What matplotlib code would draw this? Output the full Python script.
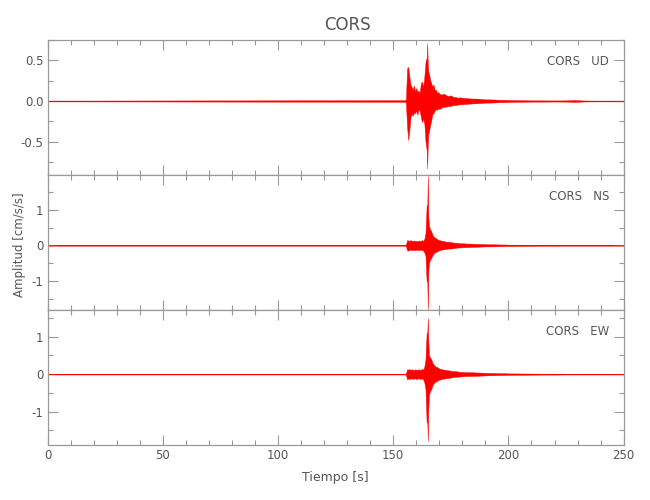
import numpy as np
import matplotlib
matplotlib.use("Agg")
import matplotlib.pyplot as plt
from matplotlib.ticker import MultipleLocator

plt.rcParams['font.family'] = ['DejaVu Sans']

station = "CORS"
components = ["UD", "NS", "EW"]

# sample times [s] of the envelope
t = [0.0, 155.0, 155.5, 156.0, 156.5, 157.0, 157.5, 158.0, 158.5, 159.0,
     159.5, 160.0, 160.5, 161.0, 161.5, 162.0, 162.5, 163.0, 163.5, 164.0,
     164.25, 164.5, 164.75, 165.0, 165.25, 165.5, 166.0, 166.5, 167.0, 167.5,
     168.0, 168.5, 169.0, 169.5, 170.0, 171, 172, 173, 174, 175,
     176, 177, 178, 179, 180, 182, 184, 186, 188, 190,
     192, 194, 196, 198, 200, 205, 210, 215, 220, 225,
     229, 233, 240, 250]

# upper / lower envelope of each trace [cm/s/s]
ud_hi = [0.005, 0.01, 0.02, 0.40, 0.42, 0.30, 0.20, 0.17, 0.14, 0.19,
         0.12, 0.16, 0.11, 0.13, 0.10, 0.22, 0.24, 0.17, 0.30, 0.48,
         0.52, 0.50, 0.71, 0.45, 0.36, 0.34, 0.26, 0.22, 0.18, 0.20,
         0.13, 0.14, 0.10, 0.11, 0.09, 0.08, 0.09, 0.07, 0.06, 0.07,
         0.05, 0.05, 0.04, 0.045, 0.04, 0.035, 0.03, 0.03, 0.025, 0.02,
         0.02, 0.018, 0.015, 0.015, 0.012, 0.01, 0.008, 0.008, 0.007, 0.008,
         0.012, 0.006, 0.005, 0.005]
ud_lo = [-0.005, -0.01, -0.02, -0.32, -0.48, -0.36, -0.20, -0.16, -0.18, -0.14,
         -0.15, -0.12, -0.17, -0.10, -0.12, -0.20, -0.26, -0.22, -0.28, -0.50,
         -0.55, -0.60, -0.83, -0.52, -0.40, -0.38, -0.30, -0.24, -0.16, -0.15,
         -0.12, -0.10, -0.11, -0.09, -0.10, -0.08, -0.07, -0.07, -0.06, -0.06,
         -0.05, -0.05, -0.045, -0.04, -0.04, -0.035, -0.03, -0.028, -0.025, -0.02,
         -0.02, -0.018, -0.015, -0.014, -0.012, -0.01, -0.008, -0.008, -0.007, -0.008,
         -0.012, -0.006, -0.005, -0.005]

ns_hi = [0.01, 0.01, 0.02, 0.15, 0.14, 0.12, 0.15, 0.13, 0.12, 0.14,
         0.12, 0.13, 0.11, 0.14, 0.12, 0.13, 0.15, 0.12, 0.18, 0.35,
         0.75, 1.14, 1.00, 1.95, 0.80, 0.55, 0.45, 0.40, 0.30, 0.25,
         0.22, 0.20, 0.18, 0.16, 0.15, 0.13, 0.12, 0.10, 0.10, 0.09,
         0.08, 0.07, 0.07, 0.06, 0.06, 0.05, 0.05, 0.04, 0.04, 0.035,
         0.03, 0.03, 0.025, 0.025, 0.02, 0.018, 0.015, 0.012, 0.012, 0.01,
         0.01, 0.01, 0.01, 0.01]
ns_lo = [-0.01, -0.01, -0.02, -0.14, -0.15, -0.13, -0.12, -0.14, -0.12, -0.13,
         -0.14, -0.12, -0.13, -0.12, -0.14, -0.12, -0.13, -0.15, -0.20, -0.30,
         -0.70, -1.02, -0.95, -1.82, -0.70, -0.50, -0.40, -0.36, -0.28, -0.24,
         -0.20, -0.19, -0.17, -0.15, -0.14, -0.12, -0.11, -0.10, -0.09, -0.09,
         -0.08, -0.07, -0.06, -0.06, -0.055, -0.05, -0.045, -0.04, -0.035, -0.03,
         -0.03, -0.028, -0.025, -0.022, -0.02, -0.018, -0.015, -0.012, -0.012, -0.01,
         -0.01, -0.01, -0.01, -0.01]

ew_hi = [0.01, 0.01, 0.02, 0.13, 0.12, 0.14, 0.11, 0.13, 0.12, 0.10,
         0.13, 0.12, 0.11, 0.13, 0.12, 0.11, 0.14, 0.12, 0.20, 0.40,
         0.80, 1.10, 1.05, 1.50, 0.85, 0.50, 0.44, 0.40, 0.30, 0.26,
         0.22, 0.20, 0.19, 0.17, 0.15, 0.13, 0.12, 0.11, 0.10, 0.09,
         0.08, 0.08, 0.07, 0.06, 0.06, 0.05, 0.05, 0.045, 0.04, 0.035,
         0.03, 0.03, 0.025, 0.025, 0.02, 0.018, 0.015, 0.012, 0.012, 0.01,
         0.01, 0.01, 0.01, 0.01]
ew_lo = [-0.01, -0.01, -0.02, -0.14, -0.12, -0.13, -0.12, -0.11, -0.13, -0.12,
         -0.11, -0.13, -0.12, -0.11, -0.13, -0.12, -0.12, -0.14, -0.22, -0.40,
         -0.90, -1.30, -1.20, -1.79, -0.90, -0.55, -0.45, -0.40, -0.30, -0.25,
         -0.21, -0.20, -0.18, -0.16, -0.15, -0.13, -0.12, -0.11, -0.10, -0.09,
         -0.08, -0.07, -0.07, -0.06, -0.06, -0.05, -0.05, -0.045, -0.04, -0.035,
         -0.03, -0.03, -0.025, -0.025, -0.02, -0.018, -0.015, -0.012, -0.012, -0.01,
         -0.01, -0.01, -0.01, -0.01]

ylims = [(-0.91, 0.75), (-1.82, 1.98), (-1.89, 1.71)]
ymajor = [0.5, 1.0, 1.0]
yminor = [0.25, 0.5, 0.5]
yfmt = ["%.1f", "%.0f", "%.0f"]

traces = [(ud_hi, ud_lo), (ns_hi, ns_lo), (ew_hi, ew_lo)]

frame = "#999999"
txt = "#555555"

fig = plt.figure(figsize=(6.5, 5), dpi=100)
left, width = 0.0734, 0.886
bottom0, h = 0.11, 0.27

axes = []
for i, comp in enumerate(components):
    ax = fig.add_axes([left, bottom0 + (2 - i) * h, width, h])
    axes.append(ax)
    hi, lo = traces[i]
    ax.axhline(0, color="#b00000", lw=0.6, zorder=1)
    ax.fill_between(t, lo, hi, color="red", lw=0.3, edgecolor="red", zorder=2)
    ax.set_xlim(0, 250)
    ax.set_ylim(*ylims[i])
    ax.xaxis.set_major_locator(MultipleLocator(50))
    ax.xaxis.set_minor_locator(MultipleLocator(10))
    ax.yaxis.set_major_locator(MultipleLocator(ymajor[i]))
    ax.yaxis.set_minor_locator(MultipleLocator(yminor[i]))
    ax.yaxis.set_major_formatter(plt.FormatStrFormatter(yfmt[i]))
    ax.tick_params(which="both", direction="in", top=True, right=True,
                   color=frame, labelcolor=txt, labelsize=8.5, width=0.8,
                   pad=3)
    ax.tick_params(which="major", length=7.5)
    ax.tick_params(which="minor", length=3.6)
    for s in ax.spines.values():
        s.set_color(frame)
        s.set_linewidth(0.9)
    if i < 2:
        ax.tick_params(labelbottom=False)
    ax.text(0.975, 0.84, f"{station}   {comp}", transform=ax.transAxes,
            ha="right", va="center", fontsize=8.5, color=txt)

axes[2].set_xlabel("Tiempo [s]", fontsize=9, color=txt, labelpad=6)
fig.text(0.03, 0.51, "Amplitud [cm/s/s]", rotation=90, ha="center",
         va="center", fontsize=8.5, color=txt)
fig.text(0.535, 0.95, station, ha="center", va="center", fontsize=12, color=txt)

fig.savefig("out.png", dpi=100)
